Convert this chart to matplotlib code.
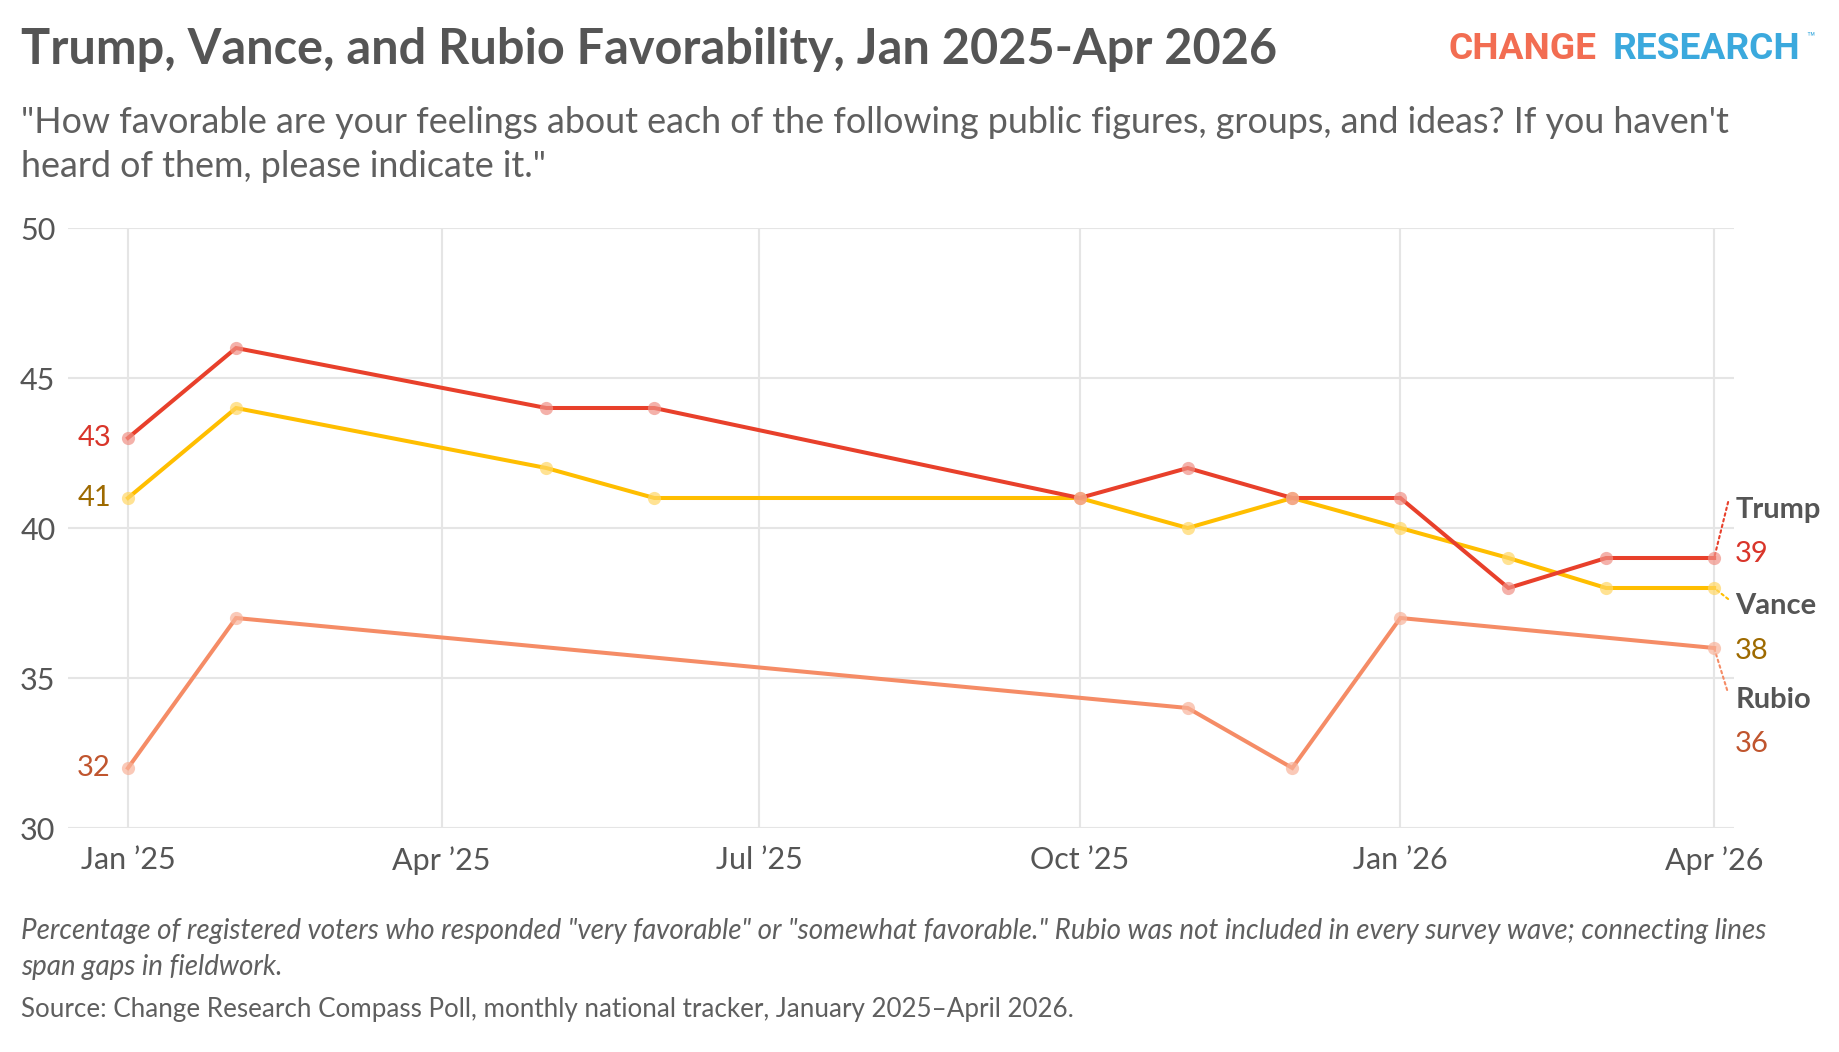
import datetime as dt
import matplotlib.pyplot as plt

# survey waves (first of month)
trump_dates = ["2025-01", "2025-02", "2025-05", "2025-06", "2025-10", "2025-11",
               "2025-12", "2026-01", "2026-02", "2026-03", "2026-04"]
trump_vals = [43, 46, 44, 44, 41, 42, 41, 41, 38, 39, 39]

vance_dates = trump_dates
vance_vals = [41, 44, 42, 41, 41, 40, 41, 40, 39, 38, 38]

rubio_dates = ["2025-01", "2025-02", "2025-11", "2025-12", "2026-01", "2026-04"]
rubio_vals = [32, 37, 34, 32, 37, 36]

tick_dates = ["2025-01", "2025-04", "2025-07", "2025-10", "2026-01", "2026-04"]
tick_labels = ["Jan \u201925", "Apr \u201925", "Jul \u201925", "Oct \u201925", "Jan \u201926", "Apr \u201926"]
y_ticks = [30, 35, 40, 45, 50]


def to_dt(s):
    y, m = s.split("-")
    return dt.datetime(int(y), int(m), 1)


FONT = "Lato"
GRAY = "#555555"
plt.rcParams["font.family"] = [FONT, "DejaVu Sans"]

W, H = 1840, 1052
fig = plt.figure(figsize=(W / 100, H / 100), dpi=100)
fig.patch.set_facecolor("white")


def fx(x):
    return x / W


def fy(y):
    return 1 - y / H


ax = fig.add_axes([fx(68), fy(828), fx(1734) - fx(68), fy(228) - fy(828)])

series = [
    # name, dates, values, line, marker, value-label colour, (label offsets)
    ("Rubio", rubio_dates, rubio_vals, "#F58C66", "#F8B39A", "#C0552E",
     dict(name=-60, val=-104, conn=(13, -42))),
    ("Vance", vance_dates, vance_vals, "#FFBE00", "#FFD766", "#9E6A00",
     dict(name=-26, val=-71, conn=(14, -11))),
    ("Trump", trump_dates, trump_vals, "#E8402B", "#F09186", "#D9352A",
     dict(name=40, val=-4, conn=(14, 56))),
]

for name, dates, vals, lc, mc, tc, offs in series:
    xs = [to_dt(d) for d in dates]
    ax.plot(xs, vals, color=lc, lw=2.9, solid_joinstyle="miter", zorder=3)
    ax.plot(xs, vals, ls="none", marker="o", ms=9.5, mfc=mc, mec="none",
            alpha=0.7, zorder=4)
    # start value on the left
    ax.annotate(f"{vals[0]}", xy=(xs[0], vals[0]), xytext=(-17, 0),
                textcoords="offset pixels", ha="right", va="center",
                fontsize=21, color=tc, annotation_clip=False)
    # end labels on the right
    ax.annotate("", xy=(xs[-1], vals[-1]), xytext=offs["conn"],
                textcoords="offset pixels", annotation_clip=False,
                arrowprops=dict(arrowstyle="-", ls=(0, (1.2, 1.6)), lw=1.5,
                                color=lc, shrinkA=0, shrinkB=0))
    ax.annotate(name, xy=(xs[-1], vals[-1]), xytext=(21, offs["name"]),
                textcoords="offset pixels", ha="left", va="baseline",
                fontsize=21, fontweight="bold", color=GRAY,
                annotation_clip=False)
    ax.annotate(f"{vals[-1]}", xy=(xs[-1], vals[-1]), xytext=(21, offs["val"]),
                textcoords="offset pixels", ha="left", va="baseline",
                fontsize=21, color=tc, annotation_clip=False)

ax.set_ylim(30, 50)
ax.set_yticks(y_ticks)
ax.set_xlim(to_dt("2025-01") - dt.timedelta(days=17.2),
            to_dt("2026-04") + dt.timedelta(days=5.7))
ax.set_xticks([to_dt(d) for d in tick_dates])
ax.set_xticklabels(tick_labels)

ax.grid(True, color="#E5E5E5", lw=1.5, zorder=0)
ax.set_axisbelow(True)
for s in ax.spines.values():
    s.set_visible(False)
ax.tick_params(axis="both", length=0, labelsize=22, labelcolor=GRAY)
ax.tick_params(axis="y", pad=9)
ax.tick_params(axis="x", pad=13)

# header
fig.text(fx(21), fy(64), "Trump, Vance, and Rubio Favorability, Jan 2025-Apr 2026",
         fontsize=35, fontweight="bold", color=GRAY, va="baseline")
fig.text(fx(21), fy(133),
         "\"How favorable are your feelings about each of the following public figures, groups, and ideas? If you haven't",
         fontsize=25.8, color="#5f5f5f", va="baseline")
fig.text(fx(21), fy(177), "heard of them, please indicate it.\"",
         fontsize=25.8, color="#5f5f5f", va="baseline")

# logo
logo_font = ["Roboto", "DejaVu Sans"]
fig.text(fx(1597), fy(59), "CHANGE", family=logo_font, fontsize=26.7,
         fontweight="bold", color="#F26D52", va="baseline", ha="right")
fig.text(fx(1613), fy(59), "RESEARCH", family=logo_font, fontsize=26.7,
         fontweight="bold", color="#3BA9DD", va="baseline", ha="left")
fig.text(fx(1806), fy(30), "\u2122", family=logo_font, fontsize=10,
         color="#3BA9DD", va="top")

# footer
fig.text(fx(21), fy(939),
         "Percentage of registered voters who responded \"very favorable\" or \"somewhat favorable.\" "
         "Rubio was not included in every survey wave; connecting lines",
         fontsize=20, style="italic", color="#5f5f5f", va="baseline")
fig.text(fx(21), fy(975), "span gaps in fieldwork.",
         fontsize=20, style="italic", color="#5f5f5f", va="baseline")
fig.text(fx(21), fy(1017),
         "Source: Change Research Compass Poll, monthly national tracker, January 2025\u2013April 2026.",
         fontsize=18.7, color="#5f5f5f", va="baseline")

fig.savefig("out.png", dpi=100, facecolor="white")
